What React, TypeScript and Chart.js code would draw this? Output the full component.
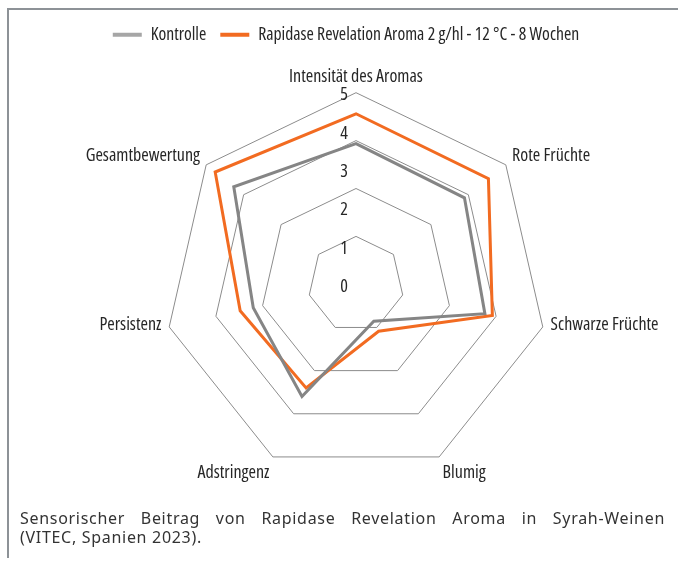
import React, { useEffect, useRef } from "react";
import { Chart, registerables } from "chart.js";

Chart.register(...registerables);

// ---- data ----
const categories = [
  "Intensität des Aromas",
  "Rote Früchte",
  "Schwarze Früchte",
  "Blumig",
  "Adstringenz",
  "Persistenz",
  "Gesamtbewertung",
];
const seriesNames = ["Kontrolle", "Rapidase Revelation Aroma 2 g/hl - 12 °C - 8 Wochen"];
const kontrolle = [3.67, 3.62, 3.45, 1.07, 3.25, 2.75, 4.08];
const rapidase = [4.45, 4.42, 3.65, 1.36, 3.0, 3.1, 4.7];
const tickValues = [0, 1, 2, 3, 4, 5];
const gridStep = 1.25;

// ---- styles ----
const COND_FAMILY = "'Open Sans', 'DejaVu Sans', sans-serif";
const TEXT_COLOR = "#262626";
const GREY = "#858585";
const GREY_LEGEND = "#a6a6a6";
const ORANGE = "#f26b21";
const CX = 356;
const CY = 284.3;
const RADIUS = 191.6;

const labelPlugin = {
  id: "excelLabels",
  afterDraw(chart: any) {
    const scale = chart.scales.r;
    const ctx: CanvasRenderingContext2D = chart.ctx;
    ctx.save();
    ctx.font = `condensed 18px ${COND_FAMILY}`;
    ctx.fillStyle = TEXT_COLOR;
    ctx.textBaseline = "middle";
    ctx.textAlign = "right";
    tickValues.forEach((v) => {
      const p = scale.getPointPositionForValue(0, v);
      ctx.fillText(String(v), p.x - 8, p.y + 2.5);
    });
    const labels: string[] = chart.data.labels;
    labels.forEach((lab, i) => {
      const p = scale.getPointPosition(i, scale.drawingArea + 8);
      const dx = p.x - scale.xCenter;
      const dy = p.y - scale.yCenter;
      const d = Math.hypot(dx, dy) || 1;
      const align: CanvasTextAlign = Math.abs(dx) < 1 ? "center" : dx > 0 ? "left" : "right";
      const c = dy / d;
      let y = p.y - 4;
      if (c < -0.85) y = p.y - 8;
      else if (c > 0.85) y = p.y + 9;
      ctx.textAlign = align;
      ctx.fillText(lab, p.x, y);
    });
    ctx.restore();
  },
};

function RadarChart() {
  const ref = useRef<HTMLCanvasElement>(null);
  useEffect(() => {
    const legendColors = [GREY_LEGEND, ORANGE];
    const chart = new Chart(ref.current!, {
      type: "radar",
      data: {
        labels: categories,
        datasets: [
          {
            label: seriesNames[0],
            data: kontrolle,
            borderColor: GREY,
            backgroundColor: "transparent",
            borderWidth: 3,
            pointRadius: 0,
            pointHoverRadius: 0,
            fill: false,
            tension: 0,
          },
          {
            label: seriesNames[1],
            data: rapidase,
            borderColor: ORANGE,
            backgroundColor: "transparent",
            borderWidth: 3,
            pointRadius: 0,
            pointHoverRadius: 0,
            fill: false,
            tension: 0,
          },
        ],
      },
      options: {
        responsive: false,
        animation: false,
        devicePixelRatio: 1,
        events: [],
        layout: { padding: { top: 12, left: 14 } },
        plugins: {
          tooltip: { enabled: false },
          legend: {
            position: "top",
            labels: {
              boxWidth: 29,
              boxHeight: 4,
              padding: 14,
              color: TEXT_COLOR,
              font: { family: COND_FAMILY, size: 17.7, weight: "condensed" as any },
              generateLabels: (c: any) =>
                (Chart.defaults.plugins.legend.labels.generateLabels as any)(c).map((l: any, i: number) => ({
                  ...l,
                  fillStyle: legendColors[i],
                  strokeStyle: legendColors[i],
                  lineWidth: 0,
                })),
            },
          },
        },
        scales: {
          r: {
            min: 0,
            max: 5,
            ticks: { display: false, stepSize: gridStep },
            grid: { color: "#8c8c8c", lineWidth: 1 },
            angleLines: { display: false },
            pointLabels: { display: false },
            afterFit: (scale: any) => {
              scale.xCenter = CX;
              scale.yCenter = CY;
              scale.drawingArea = RADIUS;
            },
          } as any,
        },
      },
      plugins: [labelPlugin],
    });
    return () => chart.destroy();
  }, []);
  return (
    <canvas
      ref={ref}
      width={678}
      height={500}
      style={{ position: "absolute", left: 0, top: 0, display: "block" }}
    />
  );
}

export default function App() {
  return (
    <div>
      <RadarChart />
      <div
        style={{
          position: "absolute",
          left: 7,
          top: 8,
          width: 671,
          height: 550,
          borderTop: "2px solid #8d9297",
          borderLeft: "2px solid #8d9297",
          boxSizing: "border-box",
          pointerEvents: "none",
        }}
      />
      <div
        style={{
          position: "absolute",
          left: 20,
          top: 509,
          width: 645,
          fontFamily: "'Noto Sans', sans-serif",
          fontSize: 16,
          letterSpacing: "0.7px",
          lineHeight: "19px",
          color: "#333",
        }}
      >
        <div style={{ textAlign: "justify", textAlignLast: "justify", whiteSpace: "nowrap" as any }}>
          Sensorischer Beitrag von Rapidase Revelation Aroma in Syrah-Weinen
        </div>
        <div>(VITEC, Spanien 2023).</div>
      </div>
    </div>
  );
}
